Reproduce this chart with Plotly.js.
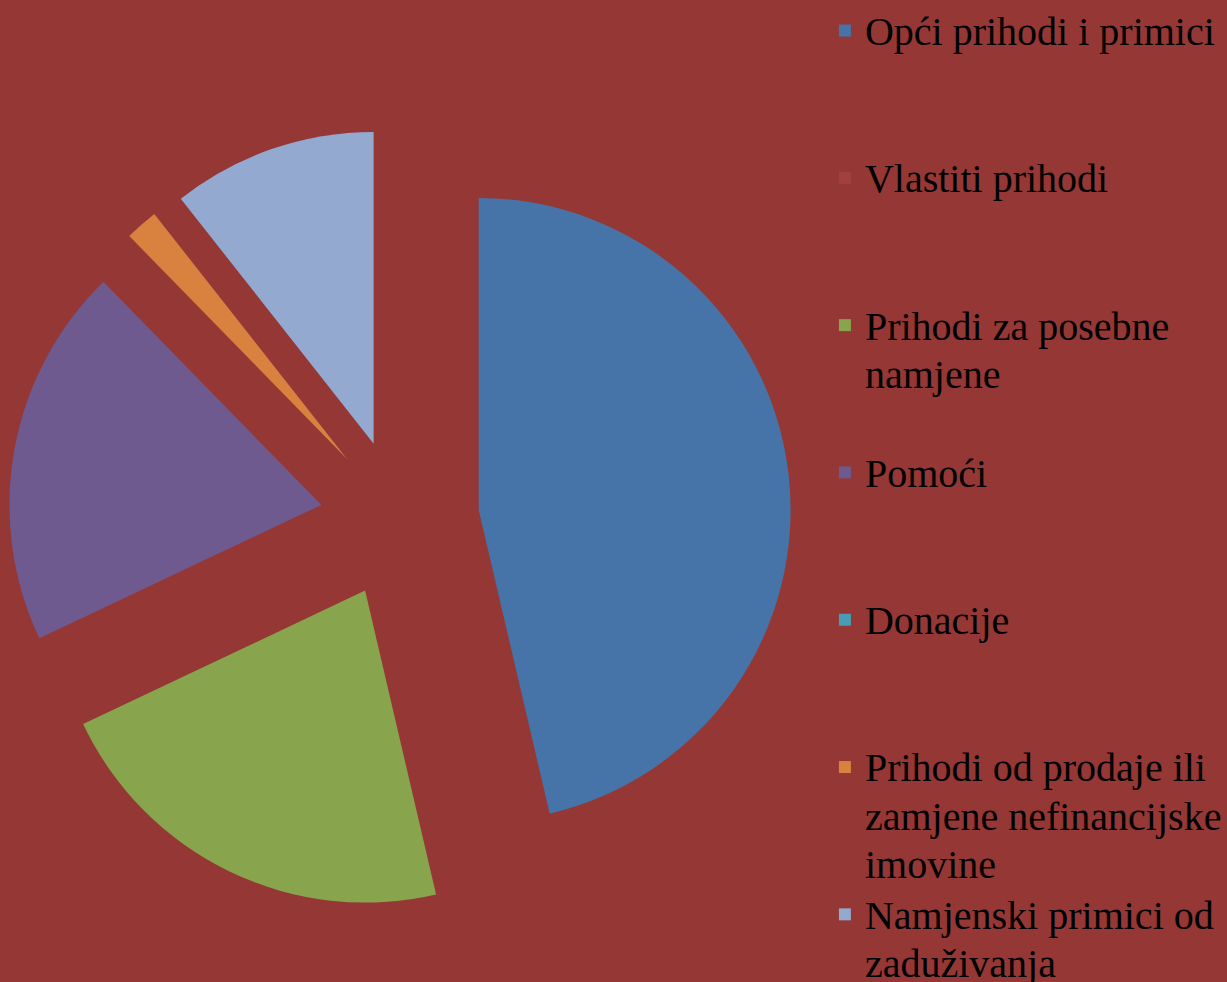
<!DOCTYPE html>
<html>
<head>
<meta charset="utf-8">
<script src="https://cdn.plot.ly/plotly-3.0.1.min.js"></script>
<style>
  html, body { margin: 0; padding: 0; background: #953735; }
  #chart { width: 1227px; height: 982px; }
</style>
</head>
<body>
<div id="chart"></div>
<script>
// === DATI ===
// izvori financiranja (udio u %)
const izvori = [
  "Opći prihodi i primici",
  "Vlastiti prihodi",
  "Prihodi za posebne<br>namjene",
  "Pomoći",
  "Donacije",
  "Prihodi od prodaje ili<br>zamjene nefinancijske<br>imovine",
  "Namjenski primici od<br>zaduživanja"
];
const udjeli = [46.3, 0, 21.6, 19.7, 0, 1.7, 10.6];
const boje = ["#4674A8", "#A2403D", "#88A54E", "#6E5A8F", "#4A9BB3", "#D9823F", "#93A9CF"];

// svaka stavka legende ima 3 retka, da razmak bude jednak
const oznake = izvori.map(t => {
  const n = t.split("<br>").length;
  const txt = t.split("<br>").map(r => `<span style="font-size:40px">${r}</span>`).join("<br>");
  return txt + "<br> ".repeat(3 - n);
});

Plotly.newPlot("chart", [{
  type: "pie",
  labels: oznake,
  values: udjeli,
  sort: false,
  direction: "clockwise",
  rotation: 0,
  pull: 0.255,
  textinfo: "none",
  hoverinfo: "none",
  marker: { colors: boje, line: { width: 0 } },
  domain: { x: [0.0067, 0.6469], y: [0.0715, 0.8715] }
}], {
  width: 1227,
  height: 982,
  margin: { l: 0, r: 0, t: 0, b: 0 },
  paper_bgcolor: "#953735",
  plot_bgcolor: "#953735",
  showlegend: true,
  legend: {
    x: 0.6745, xanchor: "left",
    y: 1.0, yanchor: "top",
    valign: "top",
    bgcolor: "rgba(0,0,0,0)",
    font: { family: "Liberation Serif, Times New Roman, serif", size: 37, color: "#000000" }
  }
}, { staticPlot: true });
</script>
</body>
</html>
